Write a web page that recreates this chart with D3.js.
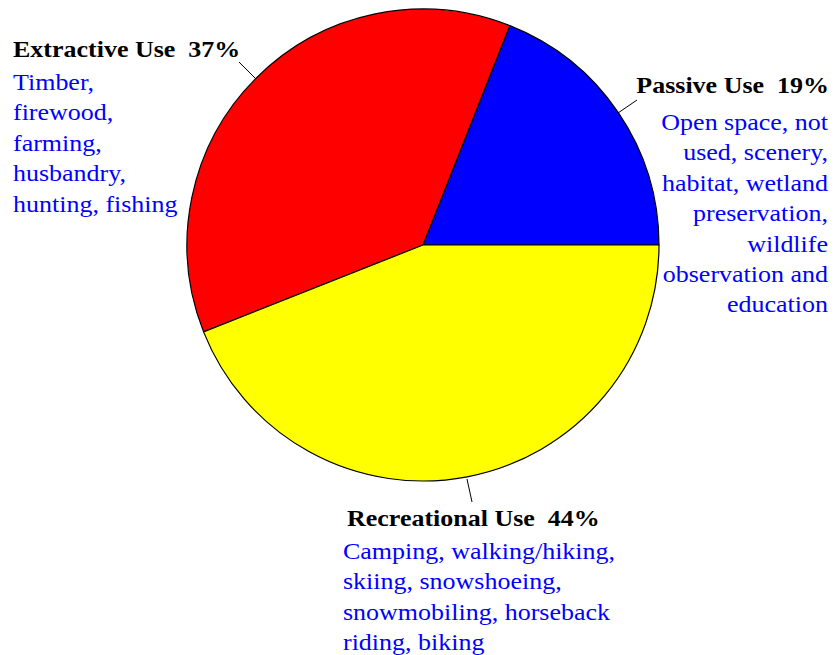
<!DOCTYPE html>
<html>
<head>
<meta charset="utf-8">
<script src="https://cdn.jsdelivr.net/npm/d3@7"></script>
<style>
  html, body { margin: 0; padding: 0; background: #fff; }
  svg text { font-family: "Liberation Serif", "Times New Roman", serif; white-space: pre; }
</style>
</head>
<body>
<svg id="chart" width="834" height="655"></svg>
<script>
// Land use shares (percent)
const categories = ["Passive Use", "Extractive Use", "Recreational Use"];
const values = [19, 37, 44];
const colors = ["#0000ff", "#ff0000", "#ffff00"];
const descriptions = [
  ["Open space, not", "used, scenery,", "habitat, wetland", "preservation,", "wildlife", "observation and", "education"],
  ["Timber,", "firewood,", "farming,", "husbandry,", "hunting, fishing"],
  ["Camping, walking/hiking,", "skiing, snowshoeing,", "snowmobiling, horseback", "riding, biking"]
];

const svg = d3.select("#chart");
const cx = 423, cy = 245, r = 236;

// Slices start at 3 o'clock and run counter-clockwise
const pie = d3.pie()
  .value(d => d)
  .sort(null)
  .startAngle(Math.PI / 2)
  .endAngle(Math.PI / 2 - 2 * Math.PI);

const arc = d3.arc().innerRadius(0).outerRadius(r);

const g = svg.append("g").attr("transform", `translate(${cx},${cy})`);
g.selectAll("path")
  .data(pie(values))
  .join("path")
  .attr("d", arc)
  .attr("fill", (d, i) => colors[i])
  .attr("stroke", "#000")
  .attr("stroke-width", 1.2)
  .attr("stroke-linejoin", "round");

// Label layout for each slice
const labelLayout = [
  { x: 829, y: 93, anchor: "end", descX: 828, descY: 130, leader: [[637, 100], [618, 113]] },
  { x: 13, y: 57, anchor: "start", descX: 13, descY: 90, leader: [[239, 62], [256, 79]] },
  { x: 347, y: 526, anchor: "start", descX: 343, descY: 559, leader: [[472, 502], [467, 479]] }
];
const lineH = 30.4;
const fontSize = 23;
const stretch = 1.13; // wide lettering

categories.forEach((name, i) => {
  const L = labelLayout[i];
  svg.append("line")
    .attr("x1", L.leader[0][0]).attr("y1", L.leader[0][1])
    .attr("x2", L.leader[1][0]).attr("y2", L.leader[1][1])
    .attr("stroke", "#000").attr("stroke-width", 1);

  svg.append("g")
    .attr("transform", `translate(${L.x},0) scale(${stretch},1)`)
    .append("text")
    .attr("x", 0).attr("y", L.y)
    .attr("text-anchor", L.anchor)
    .attr("font-size", fontSize)
    .attr("font-weight", "bold")
    .attr("fill", "#000")
    .text(`${name}  ${values[i]}%`);

  const t = svg.append("g")
    .attr("transform", `translate(${L.descX},0) scale(${stretch},1)`)
    .append("text")
    .attr("text-anchor", L.anchor)
    .attr("font-size", fontSize)
    .attr("fill", "#0000ff");
  descriptions[i].forEach((line, j) => {
    t.append("tspan")
      .attr("x", 0)
      .attr("y", L.descY + j * lineH)
      .text(line);
  });
});
</script>
</body>
</html>
